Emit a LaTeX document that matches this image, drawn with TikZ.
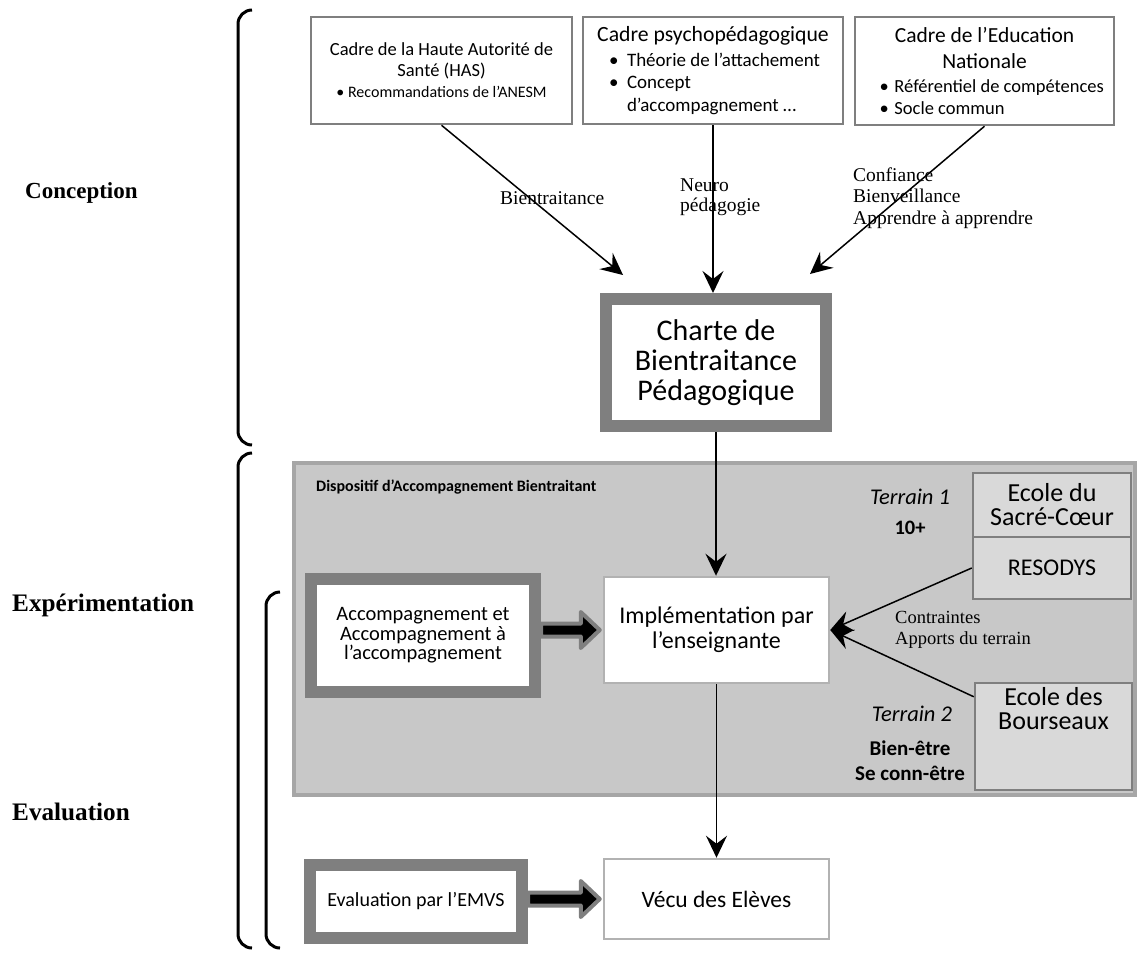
\documentclass[tikz,border=0pt]{standalone}
\usepackage{fontspec}
\setmainfont{Carlito}
\newfontfamily\camb{Liberation Serif}
\usetikzlibrary{arrows.meta,calc}
\definecolor{frame}{RGB}{127,127,127}
\definecolor{panelfill}{RGB}{200,200,200}
\definecolor{paneledge}{RGB}{166,166,166}
\definecolor{terrfill}{RGB}{217,217,217}
\setlength\parindent{0pt}
\setlength\lineskiplimit{-100pt}
\newcommand\fsz[2]{\fontsize{#1}{#2}\selectfont}
\newcommand\fatarrow[2]{%
  \draw[fatline] let \p1=(#1.east), \p2=(#2.west) in
    (\x1,\y2+6.5) -- (\x2-22,\y2+6.5) -- (\x2-22,\y2+18) -- (\x2-3,\y2)
    -- (\x2-22,\y2-18) -- (\x2-22,\y2-6.5) -- (\x1,\y2-6.5) -- cycle;}
\begin{document}
\begin{tikzpicture}[x=1pt,y=-1pt,
  cadre/.style={draw=frame, line width=2.5, fill=white, minimum width=260, minimum height=107, inner sep=0},
  epais/.style={draw=frame, line width=12, fill=white, inner sep=0},
  simple/.style={draw=gray!60, line width=2.5, fill=white, inner sep=0},
  terr/.style={draw=frame, line width=2.5, fill=terrfill, minimum width=158, inner sep=0},
  fleche/.style={line width=1.5, -{Stealth[length=22,width=21,inset=8]}},
  fatline/.style={draw=frame, fill=black, line width=4, line join=round},
  phase/.style={font=\camb\bfseries\fsz{25.2}{27}, anchor=west, inner sep=0},
  lbl/.style={font=\camb\fsz{19.5}{21.5}, align=left, anchor=west, inner sep=0},
  brk/.style={line width=3, rounded corners=14}]
\useasboundingbox (0,0) rectangle (1140,953);

\draw[brk] (252,10) -- (238,10) -- (238,445) -- (252,445);
\draw[brk] (252,453) -- (238,453) -- (238,948) -- (252,948);
\draw[brk] (280,592) -- (266,592) -- (266,948) -- (280,948);
\node[phase, font=\camb\bfseries\fsz{23}{26}] (conc) at (25,193) {Conception};
\node[phase] (expe) at (12,605) {Expérimentation};
\node[phase] (eval) at (12,812) {Evaluation};

\node[draw=paneledge, line width=4, fill=panelfill, minimum width=841, minimum height=332, inner sep=0] (dispo) at (714.5,629) {};
\node[font=\bfseries\fsz{16}{18}, anchor=west, inner sep=0] (dispolbl) at (316,487) {Dispositif d’Accompagnement Bientraitant};

\node[cadre, minimum width=261, align=center, font=\fsz{18.5}{21}] (has) at (441.5,70.5)
  {Cadre de la Haute Autorité de\\Santé (HAS)\\{\fsz{16}{17}\textbullet\ Recommandations de l’ANESM}};
\node[cadre, align=left, font=\fsz{19}{22.5}] (psy) at (713,70.5)
  {\makebox[236pt][c]{\fsz{21.7}{25}Cadre psychopédagogique}\\[2.5pt]
  \hspace*{14pt}\makebox[18pt][l]{\textbullet}Théorie de l’attachement\\
  \hspace*{14pt}\makebox[18pt][l]{\textbullet}Concept\\
  \hspace*{32pt}d’accompagnement …};
\node[cadre, minimum width=259, minimum height=108, align=left, font=\fsz{18.5}{22.5}] (edu) at (984.5,71)
  {\makebox[240pt][c]{\fsz{21.5}{25}Cadre de l’Education}\\[3.5pt]
  \makebox[240pt][c]{\fsz{21.5}{25}Nationale}\\[1.5pt]
  \hspace*{15pt}\makebox[15pt][l]{\textbullet}Référentiel de compétences\\
  \hspace*{15pt}\makebox[15pt][l]{\textbullet}Socle commun};

\node[epais, minimum width=220, minimum height=127, align=center, font=\fsz{30}{30}] (charte) at (716,362.5)
  {Charte de\\Bientraitance\\Pédagogique};
\node[simple, minimum width=225, minimum height=106, align=center, font=\fsz{24}{25}] (impl) at (716.5,630)
  {Implémentation par\\l’enseignante};
\node[epais, minimum width=224, minimum height=113, align=center, font=\fsz{20.5}{19.5}] (accomp) at (423,635.5)
  {Accompagnement et\\Accompagnement à\\l’accompagnement};
\node[epais, minimum width=212, minimum height=73, font=\fsz{20}{24}] (evalb) at (416,901.5) {Evaluation par l’EMVS};
\node[simple, minimum width=225, minimum height=80, font=\fsz{23.5}{26}] (vecu) at (716.5,899) {Vécu des Elèves};

\node[terr, minimum height=64, align=center, font=\fsz{26}{24}] (sacre) at (1052,505) {Ecole du\\Sacré-Cœur};
\node[terr, minimum height=62, font=\fsz{24}{26}] (resodys) at (1052,568) {RESODYS};
\node[terr, minimum width=157, minimum height=107,
  label={[align=center, font=\fsz{26}{24}, anchor=north, yshift=-2pt]north:Ecole des\\Bourseaux}] (bours) at (1053.5,736.5) {};
\node[font=\itshape\fsz{22.5}{26}] (t1) at (910,497) {Terrain 1};
\node[font=\bfseries\fsz{20.5}{24}] (t1b) at (910,528) {10+};
\node[font=\itshape\fsz{22.5}{26}] (t2) at (912,714) {Terrain 2};
\node[font=\bfseries\fsz{21}{25}, align=center] (t2b) at (910,760.5) {Bien-être\\Se conn-être};

\node[lbl] (lb1) at (500,198) {Bientraitance};
\node[lbl, font=\camb\fsz{19.5}{20.5}] (lb2) at (680,197) {Neuro\\pédagogie};
\node[lbl] (lb3) at (853,198) {Confiance\\Bienveillance\\Apprendre à apprendre};
\node[lbl, font=\camb\fsz{18.5}{20.5}] (lb4) at (895,630) {Contraintes\\Apports du terrain};

\coordinate (inL) at (623,275);
\coordinate (inR) at (810,274);
\draw[fleche] (has.south) -- (inL);
\draw[fleche] (psy.south) -- (psy.south |- charte.north);
\draw[fleche] (edu.south) -- (inR);
\draw[fleche] (charte.south) -- (charte.south |- impl.north);
\draw[fleche] (impl.south) -- (vecu.north);
\draw[fleche] (resodys.west) -- (impl.east);
\draw[fleche] ([yshift=-15pt]bours.north west) -- (impl.east);
\fatarrow{accomp}{impl}
\fatarrow{evalb}{vecu}
\end{tikzpicture}
\end{document}
